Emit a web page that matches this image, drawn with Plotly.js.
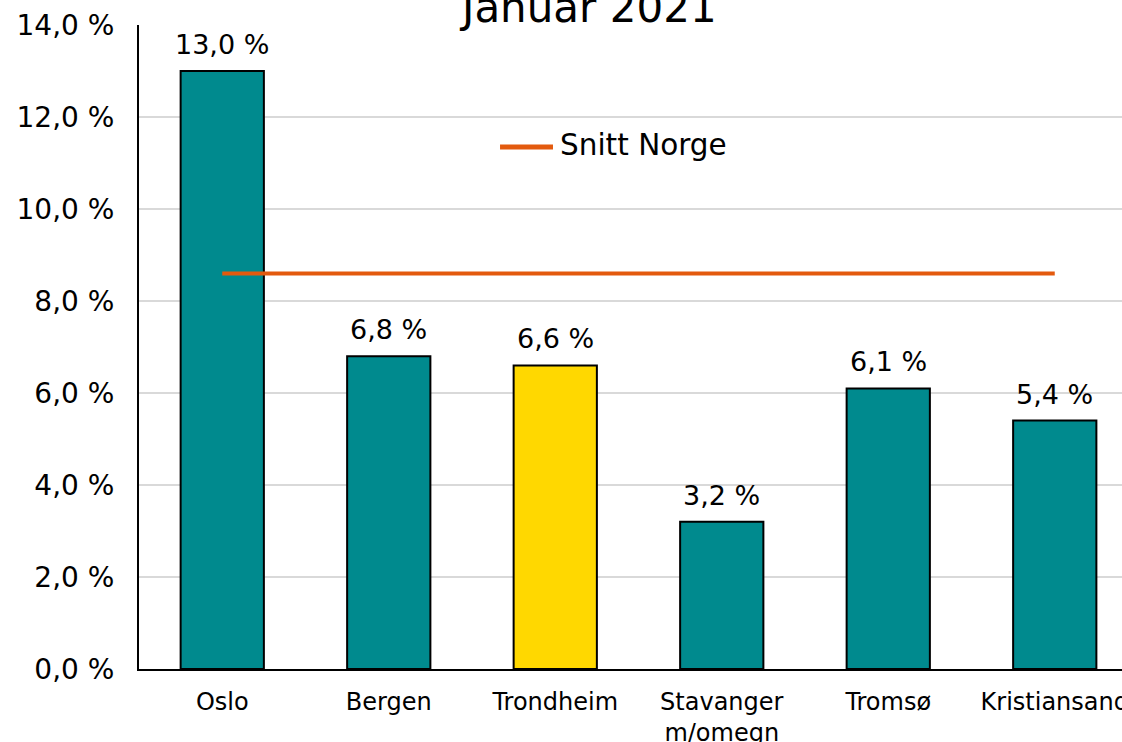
<!DOCTYPE html>
<html>
<head>
<meta charset="utf-8">
<script src="https://cdn.plot.ly/plotly-3.0.1.min.js"></script>
<style>
html,body{margin:0;padding:0;overflow:hidden;background:#fff;width:1122px;height:742px;}
#chart{width:1140px;height:742px;}
</style>
</head>
<body>
<div id="chart"></div>
<script>
const categories = ['Oslo', 'Bergen', 'Trondheim', 'Stavanger<br>m/omegn', 'Tromsø', 'Kristiansand'];
const values = [13.0, 6.8, 6.6, 3.2, 6.1, 5.4];
const snittNorge = [8.6, 8.6, 8.6, 8.6, 8.6, 8.6];
const chartTitle = 'Januar 2021';
const legendName = 'Snitt Norge';

const teal = '#008A8E';
const yellow = '#FFD800';
const orange = '#E35A0E';
const barColors = categories.map(c => c === 'Trondheim' ? yellow : teal);
const font = 'DejaVu Sans, Verdana, sans-serif';

const fmt = v => v.toFixed(1).replace('.', ',') + ' %';

const traces = [
  {
    type: 'bar',
    x: categories,
    y: values,
    marker: {color: barColors, line: {color: '#000', width: 2}},
    showlegend: false,
    hoverinfo: 'x+y'
  },
  {
    type: 'scatter',
    mode: 'lines',
    x: categories,
    y: snittNorge,
    name: legendName,
    line: {color: orange, width: 4},
    showlegend: false
  }
];

const labelAnnotations = categories.map((c, i) => ({
  x: c, y: values[i], xref: 'x', yref: 'y',
  text: fmt(values[i]),
  showarrow: false,
  yanchor: 'bottom', xanchor: 'center',
  yshift: 9,
  font: {family: font, size: 27, color: '#000'}
}));

const layout = {
  width: 1140,
  height: 742,
  margin: {l: 139, r: 2, t: 25, b: 73},
  paper_bgcolor: '#fff',
  plot_bgcolor: '#fff',
  separators: ', ',
  bargap: 0.5,
  font: {family: font, color: '#000'},
  xaxis: {
    type: 'category',
    showline: true, linecolor: '#000', linewidth: 2,
    showgrid: false, ticks: '',
    tickfont: {family: font, size: 24, color: '#000'},
    ticklabelstandoff: 10,
    fixedrange: true
  },
  yaxis: {
    range: [0, 14],
    dtick: 2,
    tickformat: '.1f',
    ticksuffix: ' %',
    showline: true, linecolor: '#000', linewidth: 2,
    showgrid: true, gridcolor: '#D9D9D9', gridwidth: 2,
    zeroline: false,
    ticks: '',
    ticklabelstandoff: 17,
    tickfont: {family: font, size: 28, color: '#000'},
    fixedrange: true
  },
  showlegend: false,
  shapes: [{
    type: 'line', xref: 'paper', yref: 'paper',
    x0: 0.3614, x1: 0.4144, y0: 0.8106, y1: 0.8106,
    line: {color: orange, width: 5}
  }],
  annotations: [{
    text: chartTitle,
    xref: 'paper', yref: 'paper',
    x: 0.449, y: 1, yanchor: 'bottom', xanchor: 'center',
    yshift: -9,
    showarrow: false,
    font: {family: font, size: 42, color: '#000'}
  }, {
    text: legendName,
    xref: 'paper', yref: 'paper',
    x: 0.4194, y: 0.8106, yanchor: 'middle', xanchor: 'left',
    yshift: 2,
    showarrow: false,
    font: {family: font, size: 29.5, color: '#000'}
  }].concat(labelAnnotations)
};

Plotly.newPlot('chart', traces, layout, {displayModeBar: false, staticPlot: true});
</script>
</body>
</html>
